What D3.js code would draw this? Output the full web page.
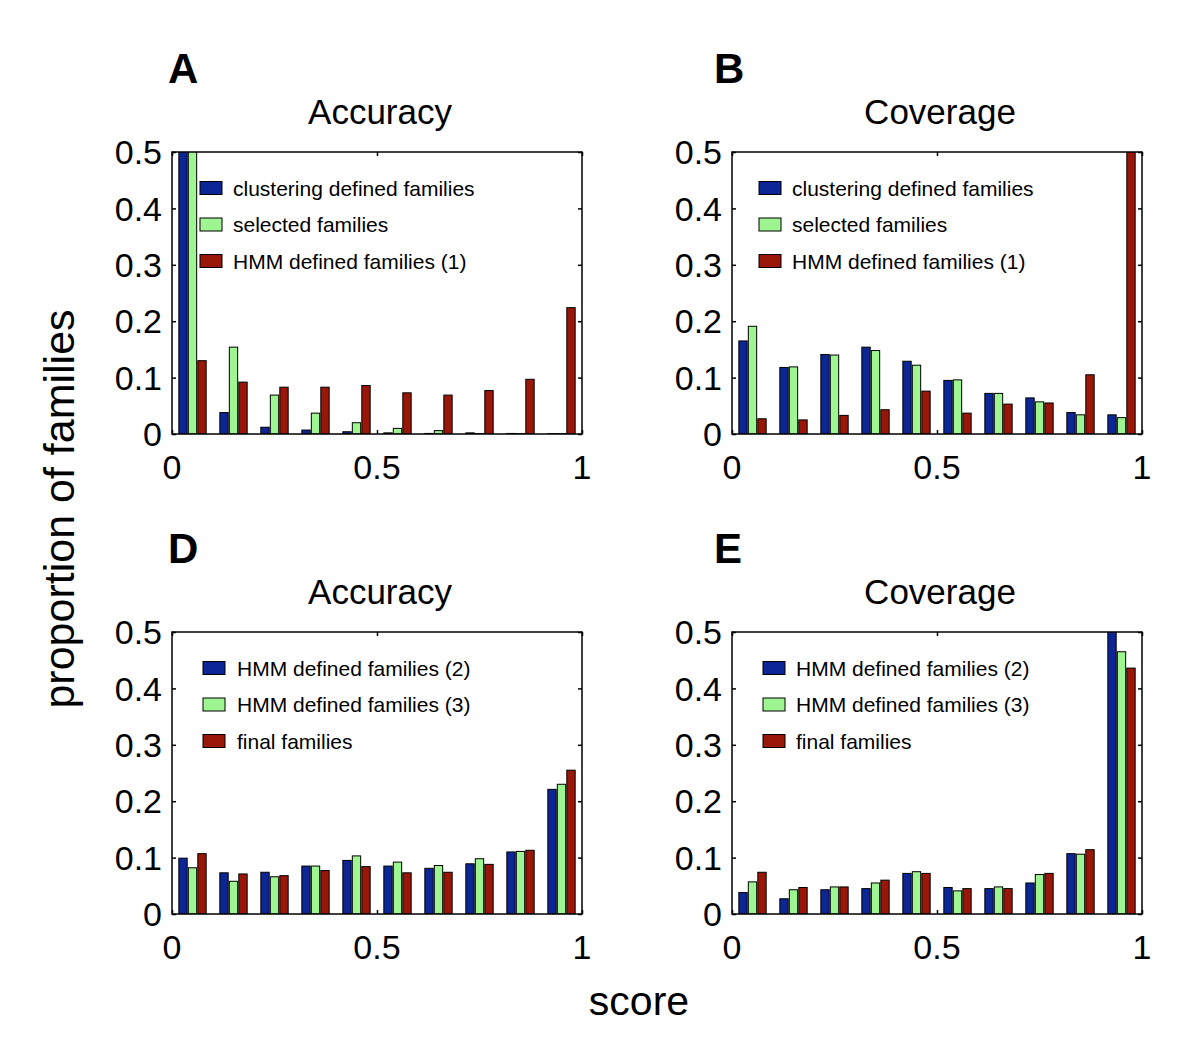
<!DOCTYPE html>
<html>
<head>
<meta charset="utf-8">
<script src="https://cdn.jsdelivr.net/npm/d3@7"></script>
<style>
  html, body { margin: 0; padding: 0; background: #fff; }
  svg { display: block; }
  text { font-family: "Liberation Sans", Arial, Helvetica, sans-serif; fill: #000; }
</style>
</head>
<body>
<svg id="chart" width="1200" height="1057"></svg>
<script>
// ---------- data ----------
const binCenters = [0.05, 0.15, 0.25, 0.35, 0.45, 0.55, 0.65, 0.75, 0.85, 0.95];
const xTickValues = [0, 0.5, 1];
const yTickValues = [0, 0.1, 0.2, 0.3, 0.4, 0.5];

const seriesNamesTop = ["clustering defined families", "selected families", "HMM defined families (1)"];
const seriesNamesBottom = ["HMM defined families (2)", "HMM defined families (3)", "final families"];

// Panel A – Accuracy
const accA_clustering = [0.93, 0.038, 0.012, 0.007, 0.004, 0.002, 0.001, 0.002, 0.001, 0.0005];
const accA_selected   = [0.70, 0.154, 0.069, 0.037, 0.020, 0.010, 0.006, 0.0005, 0.0005, 0.0005];
const accA_hmm1       = [0.130, 0.092, 0.083, 0.083, 0.086, 0.073, 0.069, 0.077, 0.097, 0.224];

// Panel B – Coverage
const covB_clustering = [0.165, 0.118, 0.141, 0.154, 0.129, 0.095, 0.072, 0.064, 0.038, 0.034];
const covB_selected   = [0.191, 0.119, 0.140, 0.148, 0.122, 0.096, 0.072, 0.057, 0.034, 0.029];
const covB_hmm1       = [0.027, 0.025, 0.033, 0.043, 0.076, 0.037, 0.053, 0.055, 0.105, 0.546];

// Panel D – Accuracy
const accD_hmm2  = [0.099, 0.073, 0.074, 0.085, 0.095, 0.085, 0.081, 0.089, 0.110, 0.221];
const accD_hmm3  = [0.082, 0.058, 0.066, 0.085, 0.103, 0.092, 0.086, 0.098, 0.111, 0.230];
const accD_final = [0.107, 0.071, 0.068, 0.077, 0.084, 0.073, 0.074, 0.088, 0.113, 0.255];

// Panel E – Coverage
const covE_hmm2  = [0.038, 0.027, 0.043, 0.045, 0.072, 0.047, 0.045, 0.055, 0.107, 0.52];
const covE_hmm3  = [0.057, 0.043, 0.048, 0.055, 0.075, 0.041, 0.048, 0.070, 0.106, 0.465];
const covE_final = [0.074, 0.047, 0.048, 0.060, 0.072, 0.045, 0.045, 0.072, 0.114, 0.436];

const seriesColors = ["#0c2696", "#9ef591", "#981708"];

// ---------- layout ----------
const panels = [
  { letter: "A", title: "Accuracy", left: 172, top: 152, letterX: 168, names: seriesNamesTop,
    series: [accA_clustering, accA_selected, accA_hmm1], legendX: 200, legendY: 188, textX: 233 },
  { letter: "B", title: "Coverage", left: 732, top: 152, letterX: 714, names: seriesNamesTop,
    series: [covB_clustering, covB_selected, covB_hmm1], legendX: 759, legendY: 188, textX: 792 },
  { letter: "D", title: "Accuracy", left: 172, top: 632, letterX: 168, names: seriesNamesBottom,
    series: [accD_hmm2, accD_hmm3, accD_final], legendX: 203, legendY: 668, textX: 237 },
  { letter: "E", title: "Coverage", left: 732, top: 632, letterX: 714, names: seriesNamesBottom,
    series: [covE_hmm2, covE_hmm3, covE_final], legendX: 763, legendY: 668, textX: 796 }
];
const W = 410, H = 282;

const svg = d3.select("#chart");

panels.forEach((p, pi) => {
  const g = svg.append("g").attr("transform", `translate(${p.left},${p.top})`);
  const x = d3.scaleLinear().domain([0, 1]).range([0, W]);
  const y = d3.scaleLinear().domain([0, 0.5]).range([H, 0]);

  const clipId = "clip" + pi;
  g.append("clipPath").attr("id", clipId)
    .append("rect").attr("x", 0).attr("y", 0).attr("width", W).attr("height", H);

  const groupW = x(0.1 * 2 / 3) - x(0);
  const inner = d3.scaleBand().domain([0, 1, 2]).range([-groupW / 2, groupW / 2])
    .paddingInner(0.12).paddingOuter(0);

  const barsG = g.append("g").attr("clip-path", `url(#${clipId})`);
  p.series.forEach((vals, si) => {
    barsG.selectAll(null)
      .data(vals.map((v, i) => ({ c: binCenters[i], v })))
      .enter().append("rect")
      .attr("x", d => x(d.c) + inner(si))
      .attr("width", inner.bandwidth())
      .attr("y", d => y(d.v))
      .attr("height", d => y(0) - y(d.v))
      .attr("fill", seriesColors[si])
      .attr("stroke", "#000")
      .attr("stroke-width", 1);
  });

  // frame
  g.append("rect").attr("x", 0).attr("y", 0).attr("width", W).attr("height", H)
    .attr("fill", "none").attr("stroke", "#000").attr("stroke-width", 1.5);

  // inward ticks
  const tickFmt = d => d === 0 ? "0" : d3.format(".1f")(d).replace(/\.0$/, "");
  const axL = g.append("g").call(d3.axisLeft(y).tickValues(yTickValues).tickSize(-4).tickFormat(""));
  const axR = g.append("g").attr("transform", `translate(${W},0)`)
    .call(d3.axisRight(y).tickValues(yTickValues).tickSize(-4).tickFormat(""));
  const axB = g.append("g").attr("transform", `translate(0,${H})`)
    .call(d3.axisBottom(x).tickValues(xTickValues).tickSize(-4).tickFormat(""));
  const axT = g.append("g")
    .call(d3.axisTop(x).tickValues(xTickValues).tickSize(-4).tickFormat(""));
  [axL, axR, axB, axT].forEach(a => {
    a.select(".domain").remove();
    a.selectAll(".tick line").attr("stroke", "#000").attr("stroke-width", 1.5);
  });

  // tick labels
  g.selectAll(null).data(yTickValues).enter().append("text")
    .attr("x", -10).attr("y", d => y(d)).attr("dy", "0.36em")
    .attr("text-anchor", "end").style("font-size", "34px")
    .text(tickFmt);
  g.selectAll(null).data(xTickValues).enter().append("text")
    .attr("x", d => x(d)).attr("y", H + 45)
    .attr("text-anchor", "middle").style("font-size", "34px")
    .text(tickFmt);

  // title
  g.append("text").attr("x", W / 2 + 3).attr("y", -28)
    .attr("text-anchor", "middle").style("font-size", "35px")
    .text(p.title);

  // panel letter
  svg.append("text").attr("x", p.letterX).attr("y", p.top - 69)
    .style("font-size", "42px").style("font-weight", "bold")
    .text(p.letter);

  // legend
  p.names.forEach((name, si) => {
    const cy = p.legendY + si * 36.5;
    svg.append("rect").attr("x", p.legendX).attr("y", cy - 6.5)
      .attr("width", 22).attr("height", 13)
      .attr("fill", seriesColors[si]).attr("stroke", "#000").attr("stroke-width", 1);
    svg.append("text").attr("x", p.textX).attr("y", cy).attr("dy", "0.36em")
      .style("font-size", "21px").text(name);
  });
});

// shared axis labels
svg.append("text").attr("x", 639).attr("y", 1015)
  .attr("text-anchor", "middle").style("font-size", "41px").text("score");
svg.append("text").attr("transform", "translate(74,509) rotate(-90)")
  .attr("text-anchor", "middle").style("font-size", "43px").text("proportion of families");
</script>
</body>
</html>
